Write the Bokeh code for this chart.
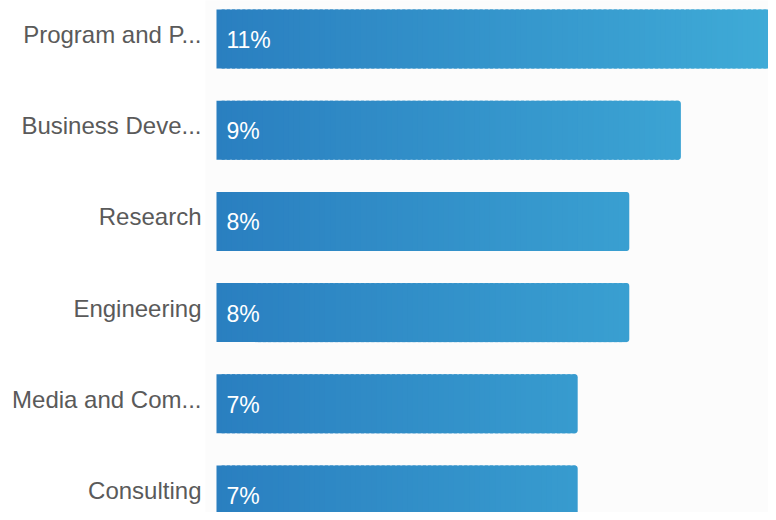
import math
from bokeh.plotting import figure
from bokeh.models import Range1d, FixedTicker, ColumnDataSource
from bokeh.core.properties import value
from bokeh.embed import file_html
from bokeh.resources import INLINE

categories = ["Program and P...", "Business Deve...", "Research", "Engineering",
              "Media and Com...", "Consulting"]
values = [11, 9, 8, 8, 7, 7]
value_labels = ["11%", "9%", "8%", "8%", "7%", "7%"]

X_START, X_END = -0.213, 10.698
Y_BOTTOM, Y_TOP = 5.192, -0.422
BAR_H = 0.647
STEP = 0.1
GX0, GX1 = 0.0, 10.85
C0 = (42, 127, 192)
C1 = (63, 171, 215)
LABEL_SHIFT = 0.05


def grad_color(x):
    t = (x - GX0) / (GX1 - GX0)
    t = max(0.0, min(1.0, t))
    r, g, b = (round(a + (c - a) * t) for a, c in zip(C0, C1))
    return "#%02x%02x%02x" % (r, g, b)


p = figure(width=768, height=512, output_backend="svg", toolbar_location=None,
           x_range=Range1d(X_START, X_END), y_range=Range1d(Y_BOTTOM, Y_TOP),
           min_border_left=205, min_border_right=0, min_border_top=0,
           min_border_bottom=0)
p.background_fill_color = "#fcfcfc"
p.border_fill_color = "white"
p.outline_line_color = None
p.grid.visible = False
p.xaxis.visible = False

body = dict(left=[], right=[], top=[], bottom=[], color=[])
ends = dict(left=[], right=[], top=[], bottom=[], color=[])
for i, v in enumerate(values):
    n = int(math.ceil(v / STEP - 1e-9))
    for k in range(n):
        left = k * STEP
        right = min(left + STEP * 1.6, v)
        tgt = ends if k == n - 1 else body
        tgt["left"].append(left)
        tgt["right"].append(v if k == n - 1 else right)
        tgt["top"].append(i - BAR_H / 2)
        tgt["bottom"].append(i + BAR_H / 2)
        tgt["color"].append(grad_color(left + STEP / 2))

p.quad(left="left", right="right", top="top", bottom="bottom",
       fill_color="color", line_color=None, source=ColumnDataSource(body))
p.quad(left="left", right="right", top="top", bottom="bottom",
       fill_color="color", line_color=None, border_radius=(0, 3, 3, 0),
       source=ColumnDataSource(ends))

p.text(x=[0] * len(values), y=list(range(len(values))), text=value_labels,
       x_offset=10, y_offset=1, text_color="white", text_font=value("Liberation Sans"),
       text_font_size="23px", text_baseline="middle", text_align="left")

ticks = [i - LABEL_SHIFT for i in range(len(categories))]
ax = p.yaxis[0]
ax.ticker = FixedTicker(ticks=ticks)
ax.major_label_overrides = {t: c for t, c in zip(ticks, categories)}
ax.axis_line_color = None
ax.major_tick_line_color = None
ax.minor_tick_line_color = None
ax.major_tick_out = 0
ax.major_tick_in = 0
ax.major_label_standoff = 4
ax.major_label_text_font = "Liberation Sans"
ax.major_label_text_font_size = "24px"
ax.major_label_text_color = "#5a5a5a"

open("out.html", "w").write(file_html(p, INLINE))
